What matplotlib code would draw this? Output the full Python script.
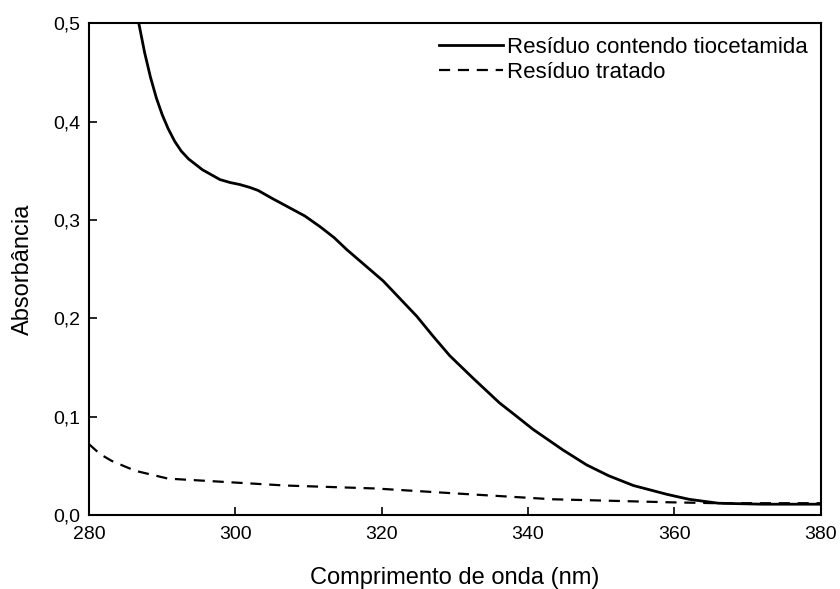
import matplotlib
matplotlib.use("Agg")
from matplotlib import pyplot as plt

plt.rcParams['font.family'] = ['Liberation Sans', 'DejaVu Sans']

# Resíduo contendo tiocetamida
wl_a = [286.8, 287.6, 288.4, 289.2, 290.0, 290.8, 291.7, 292.6, 293.6, 295.5,
        297.9, 299.3, 300.6, 302.0, 303.1, 305, 307, 309.5, 311.6, 313.5,
        315.2, 317.7, 320.2, 322.5, 324.8, 327.0, 329.3, 332.5, 336.1, 338.5,
        340.7, 344.8, 348, 351, 354.4, 359, 362, 366, 372, 380]
abs_a = [0.50, 0.47, 0.445, 0.424, 0.407, 0.393, 0.380, 0.370, 0.362, 0.351,
         0.341, 0.338, 0.336, 0.333, 0.330, 0.322, 0.314, 0.304, 0.293, 0.282,
         0.270, 0.254, 0.238, 0.220, 0.202, 0.182, 0.162, 0.139, 0.114, 0.100,
         0.087, 0.066, 0.051, 0.040, 0.030, 0.021, 0.016, 0.012, 0.011, 0.011]

# Resíduo tratado
wl_b = [280, 281.5, 283.1, 286.3, 290.8, 297.7, 306.8, 319.1, 330, 343.4,
        359, 366, 380]
abs_b = [0.072, 0.062, 0.055, 0.045, 0.037, 0.034, 0.030, 0.027, 0.022, 0.016,
         0.013, 0.012, 0.012]

x_ticks = [280, 300, 320, 340, 360, 380]
y_ticks = [0.0, 0.1, 0.2, 0.3, 0.4, 0.5]
y_labels = ['0,0', '0,1', '0,2', '0,3', '0,4', '0,5']

fig = plt.figure(figsize=(8.4, 5.89), dpi=100)
ax = fig.add_axes([0.106, 0.1256, 0.871, 0.835])

ax.plot(wl_a, abs_a, color='black', lw=2.0, label='Resíduo contendo tiocetamida')
ax.plot(wl_b, abs_b, color='black', lw=1.6, dashes=(5, 3.5), label='Resíduo tratado')

ax.set_xlim(280, 380)
ax.set_ylim(0, 0.5)
ax.set_xticks(x_ticks)
ax.set_yticks(y_ticks)
ax.set_yticklabels(y_labels)
ax.tick_params(direction='in', length=6, width=1.2, labelsize=14, top=False, right=False)
ax.tick_params(axis='x', pad=8)
ax.tick_params(axis='y', pad=6)
for s in ax.spines.values():
    s.set_linewidth(1.5)

ax.set_xlabel('Comprimento de onda (nm)', fontsize=17, labelpad=17)
ax.set_ylabel('Absorbância', fontsize=17, labelpad=14)

ax.legend(loc='upper right', frameon=False, fontsize=16, handlelength=2.9,
          handletextpad=0.15, borderaxespad=0.2, labelspacing=0.2)

fig.savefig('out.png', dpi=100)
